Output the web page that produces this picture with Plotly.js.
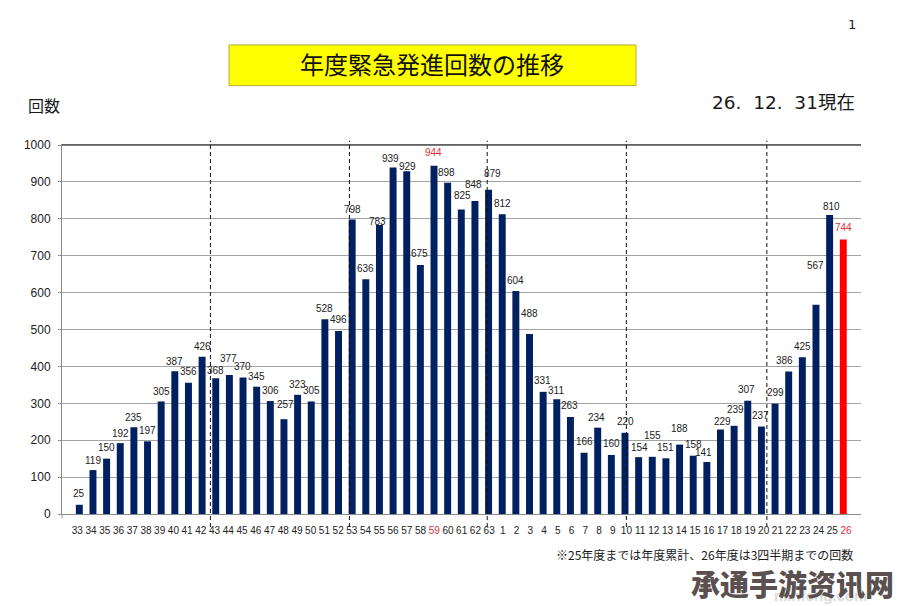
<!DOCTYPE html>
<html><head><meta charset="utf-8">
<script src="https://cdn.plot.ly/plotly-3.0.1.min.js"></script>
<style>html,body{margin:0;padding:0;background:#fff}#c{width:900px;height:606px}</style>
</head><body><div id="c"></div>
<script>
const categories = ["33","34","35","36","37","38","39","40","41","42","43","44","45","46","47","48","49","50","51","52","53","54","55","56","57","58","59","60","61","62","63","1","2","3","4","5","6","7","8","9","10","11","12","13","14","15","16","17","18","19","20","21","22","23","24","25","26"];
const scrambles = [25,119,150,192,235,197,305,387,356,426,368,377,370,345,306,257,323,305,528,496,798,636,783,939,929,675,944,898,825,848,879,812,604,488,331,311,263,166,234,160,220,154,155,151,188,158,141,229,239,307,237,299,386,425,567,810,744];
const yTicks = [0,100,200,300,400,500,600,700,800,900,1000];
const redLabels = ["59","26"];
const redValueLabels = ["59","26"];
const redBars = ["26"];
// hand-placed label offsets of the original, in pixels
const labelDx = [0,0,0,0,0,0,0,0,0,0,0,-1,-1,0,0,2,0,0,0,0,0,0,-2,-3,1,-1,-1,-1,1,-1,4,0,0,0,-1,-1,-1,0,-1,0,0,1,0,0,0,0,-3,2,1,-1,-1,0,-4,0,0,2,0];
const labelGap = [11,10,11,10,10,11,10,10,11,10,8,16,11,10,11,15,10,11,11,11,10,11,4,9,5,11,13,10,14,17,16,11,11,20,11,9,11,11,10,11,11,10,21,11,16,11,9,8,16,11,11,11,11,11,39,9,12];
const dividers = [9.61,19.8,29.9,40.1,50.4];

const L=62,R=860.6,T=145.3,B=514;
const px=v=>(v-L)/(R-L), py=v=>(B-v)/(B-T);
const JP='"Noto Sans CJK JP","Noto Sans",sans-serif', LS='"Liberation Sans",Arial,sans-serif', DJ='"DejaVu Sans","Noto Sans CJK JP",sans-serif';
const note=(x,y,text,size,xa,extra)=>Object.assign({xref:'paper',yref:'paper',x:px(x),y:py(y),text,showarrow:false,xanchor:xa||'center',yanchor:'middle',font:{family:JP,size,color:'#1a1a1a'}},extra||{});

const valueNotes=categories.map((c,i)=>({
  xref:'x',yref:'y',x:i,y:scrambles[i],text:String(scrambles[i]),showarrow:false,
  xanchor:'center',yanchor:'middle',xshift:labelDx[i],yshift:labelGap[i],
  font:{family:LS,size:10,color:redValueLabels.includes(c)?'#e0303a':'#222'}
}));

const traces=[
 {type:'bar',x:categories,y:scrambles,hoverinfo:'x+y',
  marker:{color:categories.map(c=>redBars.includes(c)?'#ff0000':'#002060')}},
 {type:'scatter',mode:'markers',x:categories,y:scrambles,xaxis:'x2',
  marker:{opacity:0,size:1},hoverinfo:'skip',showlegend:false}
];
const dividerShapes=dividers.map(d=>({type:'line',xref:'x',yref:'paper',x0:d,x1:d,y0:py(527),y1:py(141),
  line:{color:'#111',width:1,dash:'4px,3px'},layer:'above'}));
const layout={
 width:900,height:606,autosize:false,showlegend:false,paper_bgcolor:'#fff',plot_bgcolor:'#fff',
 margin:{l:L,r:900-R,t:T,b:606-B,pad:0},bargap:0.49,
 title:{text:'年度緊急発進回数の推移',font:{family:JP,size:24,color:'#111'},xref:'container',yref:'container',
   x:432/900,y:1-66/606,xanchor:'center',yanchor:'middle',automargin:false},
 xaxis:{type:'category',categoryorder:'array',categoryarray:categories,range:[-1.27,57.3],
   showticklabels:false,ticks:'',showgrid:false,showline:true,linecolor:'#8a8a8a',linewidth:1,mirror:true,zeroline:false,fixedrange:true},
 xaxis2:{type:'category',categoryorder:'array',categoryarray:categories,overlaying:'x',anchor:'y',side:'bottom',
   range:[-1.115,57.09],tickmode:'array',tickvals:categories,
   ticktext:categories.map(c=>redLabels.includes(c)?'<span style="color:#e0303a">'+c+'</span>':c),
   ticks:'outside',ticklen:7,tickcolor:'rgba(0,0,0,0)',tickangle:0,showgrid:false,showline:false,zeroline:false,
   tickfont:{family:LS,size:10,color:'#222'},fixedrange:true},
 yaxis:{range:[0,1000],tickmode:'array',tickvals:yTicks,ticks:'outside',ticklen:3,tickcolor:'#909090',
   tickfont:{family:LS,size:12,color:'#222'},showgrid:true,gridcolor:'#a4a4a4',gridwidth:1,showline:true,linecolor:'#8a8a8a',
   zeroline:false,ticklabelstandoff:5,fixedrange:true},
 shapes:[
  {type:'rect',xref:'paper',yref:'paper',x0:px(229),x1:px(635.7),y0:py(86),y1:py(45.3),
   fillcolor:'#ffff00',line:{color:'#b4ad3c',width:1},layer:'below'},
  {type:'line',xref:'paper',yref:'paper',x0:0,x1:1,y0:1,y1:1,line:{color:'#555',width:1.5},layer:'above'},
  {type:'line',xref:'paper',yref:'paper',x0:0,x1:0,y0:0,y1:py(518),line:{color:'#909090',width:1}}
 ].concat(dividerShapes),
 annotations:valueNotes.concat([
  note(44.5,105,'回数',16),
  note(856.5,103,'26.\u00a0\u00a012.\u00a0\u00a031現在',18.5,'right',{font:{family:DJ,size:18.5,color:'#1a1a1a'}}),
  note(852,25,'1',14,'center',{font:{family:DJ,size:13,color:'#222'}}),
  note(854.5,554,'※25年度までは年度累計、26年度は3四半期までの回数',12,'right'),
  note(820,595,'minfeng.com',15,'center',{font:{family:LS,size:15,color:'#dcdcdc',weight:700}}),
  note(792,583,'承通手游资讯网',29,'center',{font:{family:'"Noto Sans CJK SC",sans-serif',size:29,color:'#5a5050',weight:900}})
 ])
};
Plotly.newPlot('c',traces,layout,{displayModeBar:false,staticPlot:true});
</script></body></html>
